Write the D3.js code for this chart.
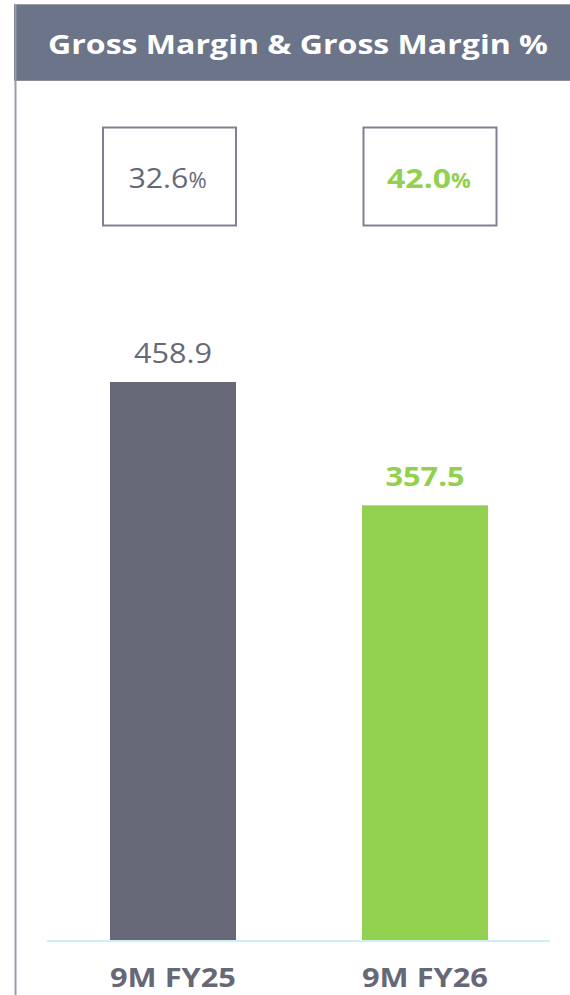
<!DOCTYPE html>
<html>
<head>
<meta charset="utf-8">
<script src="https://cdn.jsdelivr.net/npm/d3@7"></script>
<style>
  html, body { margin: 0; padding: 0; background: #fff; }
  svg { display: block; }
</style>
</head>
<body>
<svg id="chart" width="570" height="995"></svg>
<script>
const title = "Gross Margin & Gross Margin %";
const categories = ["9M FY25", "9M FY26"];
const grossMargin = [458.9, 357.5];
const marginPct = ["32.6", "42.0"];
const highlight = [false, true];

const W = 570, H = 995;
const svg = d3.select("#chart");
const grey = "#666877", green = "#92d050";
const FONT = "'Open Sans', 'DejaVu Sans', sans-serif";

// header band
svg.append("rect").attr("x", 14).attr("y", 4).attr("width", W - 14).attr("height", 77)
  .attr("fill", "#6b7489");
svg.append("line").attr("x1", 14).attr("x2", W).attr("y1", 80.5).attr("y2", 80.5)
  .attr("stroke", "#8a8d9c").attr("stroke-width", 1);
svg.append("line").attr("x1", 14).attr("x2", W).attr("y1", 4.5).attr("y2", 4.5)
  .attr("stroke", "#9a9caa").attr("stroke-width", 1);
// left border
svg.append("line").attr("x1", 15.5).attr("x2", 15.5).attr("y1", 4).attr("y2", H)
  .attr("stroke", "#9a9aaa").attr("stroke-width", 2);

svg.append("text").attr("x", 298).attr("y", 54).attr("text-anchor", "middle")
  .attr("font-family", FONT).attr("font-weight", 700).attr("font-size", 27)
  .attr("fill", "#fff").attr("textLength", 500).attr("lengthAdjust", "spacingAndGlyphs")
  .text(title);

// scales
const x = d3.scaleBand().domain(categories).range([47, 551]).paddingInner(0.5).paddingOuter(0.25);
const y0 = 940;
const y = d3.scaleLinear().domain([0, 458.9]).range([y0, 382]);

// bars
svg.selectAll("rect.bar").data(categories).join("rect").attr("class", "bar")
  .attr("x", d => x(d)).attr("width", x.bandwidth())
  .attr("y", (d, i) => y(grossMargin[i])).attr("height", (d, i) => y0 - y(grossMargin[i]))
  .attr("fill", (d, i) => highlight[i] ? green : "#666877");

// baseline
svg.append("line").attr("x1", 47).attr("x2", 550).attr("y1", 941).attr("y2", 941)
  .attr("stroke", "#c8f2f6").attr("stroke-width", 2);

// value labels
svg.selectAll("text.val").data(categories).join("text").attr("class", "val")
  .attr("x", d => x(d) + x.bandwidth() / 2)
  .attr("y", (d, i) => y(grossMargin[i]) - 19)
  .attr("text-anchor", "middle").attr("font-family", FONT)
  .attr("font-size", 27)
  .attr("font-weight", (d, i) => highlight[i] ? 700 : 400)
  .attr("fill", (d, i) => highlight[i] ? green : grey)
  .attr("textLength", (d, i) => highlight[i] ? 79 : 78)
  .attr("lengthAdjust", "spacingAndGlyphs")
  .text((d, i) => grossMargin[i].toFixed(1));

// percent boxes
const boxW = 133, boxH = 98;
const boxes = svg.selectAll("g.box").data(categories).join("g").attr("class", "box")
  .attr("transform", (d, i) => `translate(${x(d) + x.bandwidth() / 2 + (i === 0 ? -3.5 : 5) - boxW / 2},127.5)`);
boxes.append("rect").attr("width", boxW).attr("height", boxH)
  .attr("fill", "none").attr("stroke", "#7f8190").attr("stroke-width", 2);
const pt = boxes.append("text").attr("x", (d, i) => boxW / 2 + (i === 0 ? -2 : -1)).attr("y", 60)
  .attr("text-anchor", "middle").attr("font-family", FONT)
  .attr("font-weight", (d, i) => highlight[i] ? 700 : 400)
  .attr("fill", (d, i) => highlight[i] ? green : grey);
pt.append("tspan").attr("font-size", 27).attr("textLength", (d, i) => highlight[i] ? 64 : 60)
  .attr("lengthAdjust", "spacingAndGlyphs").text((d, i) => marginPct[i]);
pt.append("tspan").attr("font-size", 22).text("%");

// category labels
svg.selectAll("text.cat").data(categories).join("text").attr("class", "cat")
  .attr("x", d => x(d) + x.bandwidth() / 2).attr("y", 987)
  .attr("text-anchor", "middle").attr("font-family", FONT)
  .attr("font-size", 26).attr("font-weight", 700).attr("fill", grey)
  .attr("textLength", 126).attr("lengthAdjust", "spacingAndGlyphs")
  .text(d => d);
</script>
</body>
</html>
